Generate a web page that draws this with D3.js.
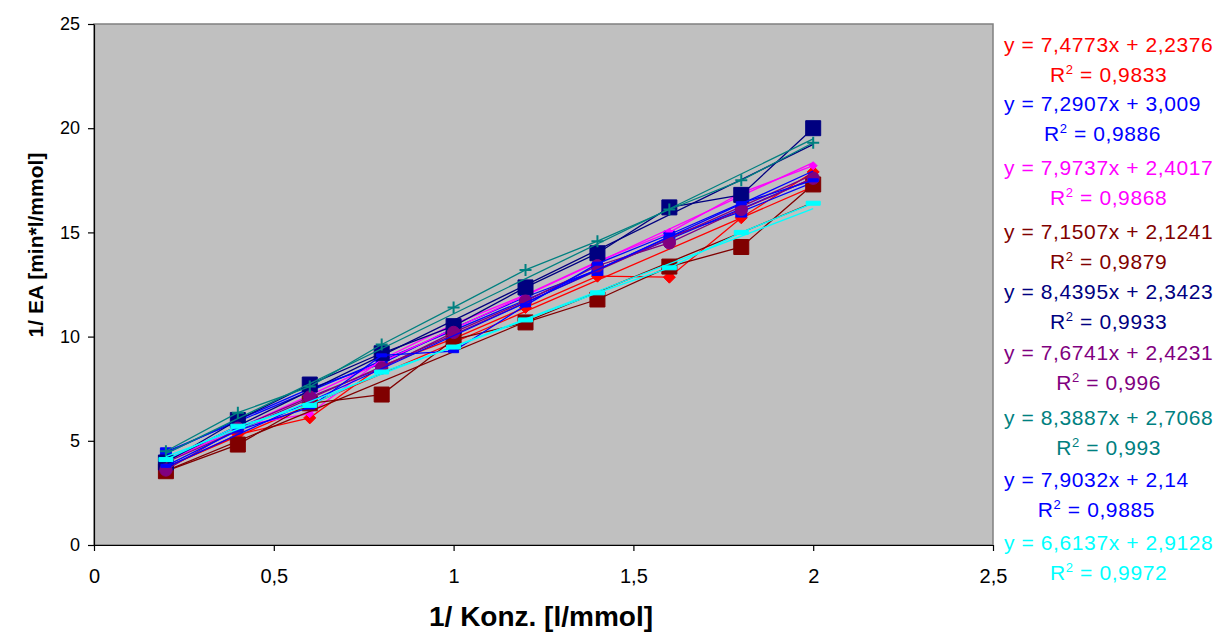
<!DOCTYPE html>
<html>
<head>
<meta charset="utf-8">
<script src="https://cdn.jsdelivr.net/npm/d3@7"></script>
<style>
body { margin: 0; background: #fff; }
text { font-family: Arial, "Liberation Sans", sans-serif; }
</style>
</head>
<body>
<div id="chart"></div>
<script>
var W = 1221, H = 632;

// data
var xValues = [0.2, 0.4, 0.6, 0.8, 1.0, 1.2, 1.4, 1.6, 1.8, 2.0];
var yRed     = [3.7, 5.3, 6.1, 8.6, 9.9, 11.4, 12.9, 12.85, 15.7, 17.9];
var yBlue    = [4.4, 6.0, 7.5, 8.7, 10.4, 11.9, 13.2, 14.8, 16.0, 17.4];
var yMagenta = [4.1, 5.7, 6.3, 8.9, 10.6, 12.0, 13.6, 15.0, 16.9, 18.2];
var yDarkRed = [3.54, 4.82, 6.8, 7.22, 9.86, 10.68, 11.78, 13.36, 14.3, 17.3];
var yNavy    = [3.96, 6.0, 7.7, 9.2, 10.5, 12.36, 14.0, 16.2, 16.8, 20.0];
var yPurple  = [3.6, 5.6, 7.1, 8.5, 10.2, 11.7, 13.4, 14.5, 16.1, 17.6];
var yTeal    = [4.5, 6.35, 7.6, 9.62, 11.4, 13.2, 14.58, 16.1, 17.5, 19.3];
var yBlue2   = [3.8, 5.5, 6.6, 9.1, 9.3, 11.5, 13.5, 14.9, 16.4, 17.5];
var yCyan    = [4.1, 5.7, 6.7, 8.3, 9.5, 10.8, 12.1, 13.3, 15.0, 16.4];

var seriesY = [yRed, yBlue, yMagenta, yDarkRed, yNavy, yPurple, yTeal, yBlue2, yCyan];
var colors = ["#ff0000", "#0000ff", "#ff00ff", "#800000", "#000080", "#800080", "#008080", "#0000ff", "#00ffff"];
var markers = ["diamond", "square", "smalldiamond", "bigsquare", "bigsquare", "circle", "plus", "dash", "bar"];

// trendline coefficients and R² as printed
var slopes     = [7.4773, 7.2907, 7.9737, 7.1507, 8.4395, 7.6741, 8.3887, 7.9032, 6.6137];
var intercepts = [2.2376, 3.009, 2.4017, 2.1241, 2.3423, 2.4231, 2.7068, 2.14, 2.9128];
var r2Values   = [0.9833, 0.9886, 0.9868, 0.9879, 0.9933, 0.996, 0.993, 0.9885, 0.9972];

var xTicks = [0, 0.5, 1, 1.5, 2, 2.5];
var yTicks = [0, 5, 10, 15, 20, 25];

var labelY = [45, 104, 168, 232, 292, 353, 418, 480, 543];

var plotLeft = 94, plotRight = 993, plotTop = 24, plotBottom = 545;

var svg = d3.select("#chart").append("svg")
	.attr("width", W)
	.attr("height", H);

var x = d3.scaleLinear().domain([0, 2.5]).range([plotLeft, plotRight]);
var y = d3.scaleLinear().domain([0, 25]).range([plotBottom, plotTop]);

function comma(v) { return String(v).replace(".", ","); }

svg.append("rect")
	.attr("x", plotLeft).attr("y", plotTop)
	.attr("width", plotRight - plotLeft).attr("height", plotBottom - plotTop)
	.attr("fill", "#c0c0c0")
	.attr("stroke", "#808080")
	.attr("stroke-width", 1.5);

// axes
var yAxis = svg.append("g")
	.attr("transform", "translate(" + plotLeft + ",0)")
	.call(d3.axisLeft(y).tickValues(yTicks).tickSize(6).tickSizeOuter(0).tickPadding(8).tickFormat(comma));
yAxis.selectAll("text").style("font-size", "18px").attr("fill", "#000");

var xAxis = svg.append("g")
	.attr("transform", "translate(0," + plotBottom + ")")
	.call(d3.axisBottom(x).tickValues(xTicks).tickSize(6).tickSizeOuter(0).tickPadding(18).tickFormat(comma));
xAxis.selectAll("text").style("font-size", "20px").attr("fill", "#000");
svg.selectAll(".domain, .tick line").attr("stroke", "#000").attr("stroke-width", 1.2);

svg.append("text")
	.attr("transform", "translate(43,245) rotate(-90)")
	.attr("text-anchor", "middle")
	.style("font-size", "21px")
	.style("font-weight", "bold")
	.text("1/ EA [min*l/mmol]");

svg.append("text")
	.attr("x", 541).attr("y", 626)
	.attr("text-anchor", "middle")
	.style("font-size", "28px")
	.style("font-weight", "bold")
	.text("1/ Konz. [l/mmol]");

function markerPath(kind) {
	if (kind === "diamond") return "M0,-6L6,0L0,6L-6,0Z";
	if (kind === "smalldiamond") return "M0,-4L4,0L0,4L-4,0Z";
	if (kind === "square") return "M-5.5,-5.5H5.5V5.5H-5.5Z";
	if (kind === "bigsquare") return "M-7.5,-7.5H7.5V7.5H-7.5Z";
	if (kind === "circle") return d3.symbol(d3.symbolCircle, 120)();
	if (kind === "plus") return "M-6,0H6M0,-6V6";
	if (kind === "dash") return "M-5,-1.5H5V1.5H-5Z";
	return "M-7,-2H7V2H-7Z";
}

var line = d3.line().x(d => x(d[0])).y(d => y(d[1]));

seriesY.forEach(function(ys, i) {
	var pts = xValues.map((xv, j) => [xv, ys[j]]);
	var g = svg.append("g");
	var x0 = xValues[0], x1 = xValues[xValues.length - 1];
	g.append("path")
		.attr("d", line([[x0, slopes[i] * x0 + intercepts[i]], [x1, slopes[i] * x1 + intercepts[i]]]))
		.attr("fill", "none")
		.attr("stroke", colors[i])
		.attr("stroke-width", 1.3);
	g.append("path")
		.attr("d", line(pts))
		.attr("fill", "none")
		.attr("stroke", colors[i])
		.attr("stroke-width", 1.3);
	g.selectAll("path.m")
		.data(pts)
		.enter()
		.append("path")
		.attr("class", "m")
		.attr("transform", d => "translate(" + x(d[0]) + "," + y(d[1]) + ")")
		.attr("d", markerPath(markers[i]))
		.attr("fill", markers[i] === "plus" ? "none" : colors[i])
		.attr("stroke", colors[i])
		.attr("stroke-width", markers[i] === "plus" ? 2 : 1);
});

// trendline labels
slopes.forEach(function(s, i) {
	var eq = svg.append("text")
		.attr("x", 1004)
		.attr("y", labelY[i] + 7)
		.attr("fill", colors[i])
		.style("font-size", "21px")
		.style("letter-spacing", "0.6px")
		.text("y = " + comma(s) + "x + " + comma(intercepts[i]));
	var w = eq.node().getComputedTextLength();
	var r = svg.append("text")
		.attr("x", 1004 + w / 2)
		.attr("y", labelY[i] + 37)
		.attr("text-anchor", "middle")
		.attr("fill", colors[i])
		.style("font-size", "21px")
		.style("letter-spacing", "0.6px");
	r.append("tspan").text("R");
	r.append("tspan").attr("dy", -8).style("font-size", "13px").text("2");
	r.append("tspan").attr("dy", 8).text(" = " + comma(r2Values[i]));
});
</script>
</body>
</html>
